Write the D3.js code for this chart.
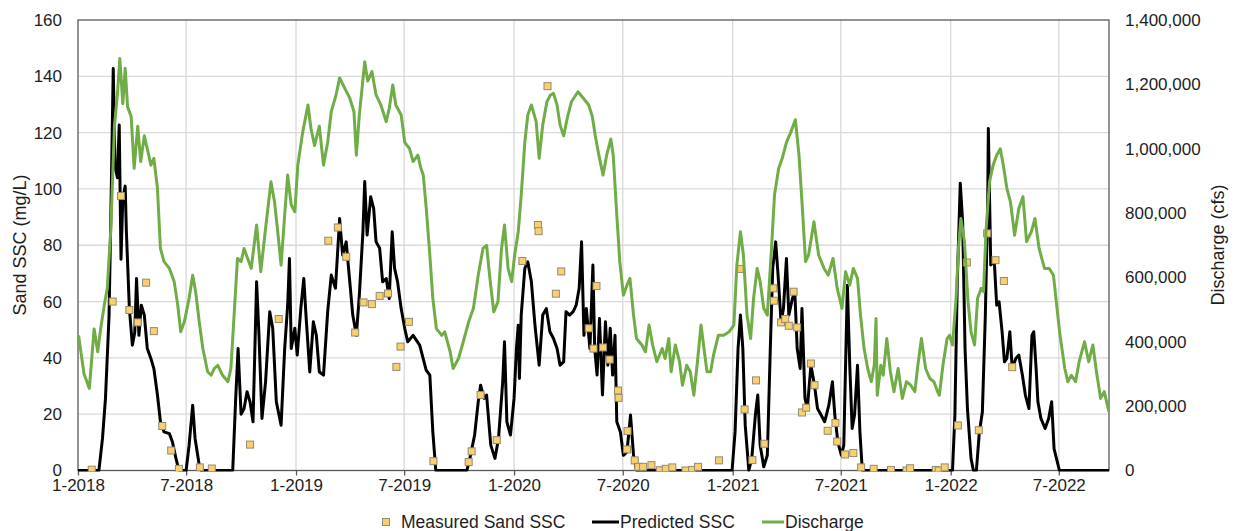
<!DOCTYPE html>
<html>
<head>
<meta charset="utf-8">
<script src="https://cdnjs.cloudflare.com/ajax/libs/d3/7.8.5/d3.min.js"></script>
<style>
  body { margin: 0; background: #fff; }
  svg text { font-family: Arial, "Liberation Sans", sans-serif; fill: #1e1e1e; }
</style>
</head>
<body>
<svg id="chart" width="1234" height="531"></svg>
<script>
// daily discharge (cfs)
var discharge = [
  ['2018-01-02', 420000], ['2018-01-11', 301000], ['2018-01-20', 255000], ['2018-01-28', 440000],
  ['2018-02-03', 369000], ['2018-02-08', 441000], ['2018-02-14', 514000], ['2018-02-19', 566000],
  ['2018-02-25', 752000], ['2018-03-03', 1070000], ['2018-03-08', 1170000], ['2018-03-12', 1280000],
  ['2018-03-17', 1140000], ['2018-03-21', 1250000], ['2018-03-25', 1130000], ['2018-03-31', 1100000],
  ['2018-04-05', 939000], ['2018-04-11', 1070000], ['2018-04-16', 960000], ['2018-04-22', 1040000],
  ['2018-04-27', 1000000], ['2018-05-03', 949000], ['2018-05-08', 970000], ['2018-05-14', 877000],
  ['2018-05-19', 690000], ['2018-05-25', 649000], ['2018-06-03', 628000], ['2018-06-11', 587000],
  ['2018-06-17', 514000], ['2018-06-22', 431000], ['2018-06-28', 462000], ['2018-07-06', 535000],
  ['2018-07-12', 607000], ['2018-07-17', 555000], ['2018-07-23', 462000], ['2018-07-29', 379000],
  ['2018-08-06', 307000], ['2018-08-12', 296000], ['2018-08-17', 317000], ['2018-08-23', 327000],
  ['2018-08-31', 296000], ['2018-09-09', 276000], ['2018-09-14', 317000], ['2018-09-20', 504000],
  ['2018-09-25', 659000], ['2018-10-01', 649000], ['2018-10-06', 690000], ['2018-10-12', 659000],
  ['2018-10-18', 628000], ['2018-10-27', 763000], ['2018-11-03', 618000], ['2018-11-11', 752000],
  ['2018-11-20', 897000], ['2018-11-26', 835000], ['2018-12-02', 731000], ['2018-12-07', 638000],
  ['2018-12-13', 794000], ['2018-12-18', 918000], ['2018-12-24', 825000], ['2018-12-30', 804000],
  ['2019-01-04', 949000], ['2019-01-12', 1050000], ['2019-01-21', 1136000], ['2019-01-26', 1063000],
  ['2019-02-01', 1010000], ['2019-02-09', 1070000], ['2019-02-16', 949000], ['2019-02-23', 1020000],
  ['2019-03-01', 1115000], ['2019-03-09', 1167000], ['2019-03-15', 1220000], ['2019-03-23', 1190000],
  ['2019-04-01', 1157000], ['2019-04-08', 1115000], ['2019-04-12', 980000], ['2019-04-17', 1105000],
  ['2019-04-26', 1270000], ['2019-05-01', 1210000], ['2019-05-08', 1240000], ['2019-05-15', 1167000],
  ['2019-05-23', 1136000], ['2019-06-01', 1084000], ['2019-06-06', 1125000], ['2019-06-12', 1198000],
  ['2019-06-17', 1136000], ['2019-06-26', 1105000], ['2019-07-02', 1020000], ['2019-07-10', 1000000],
  ['2019-07-16', 960000], ['2019-07-24', 980000], ['2019-07-29', 939000], ['2019-08-02', 918000],
  ['2019-08-07', 815000], ['2019-08-13', 670000], ['2019-08-18', 535000], ['2019-08-24', 441000],
  ['2019-09-02', 420000], ['2019-09-07', 431000], ['2019-09-16', 369000], ['2019-09-21', 317000],
  ['2019-09-30', 348000], ['2019-10-08', 400000], ['2019-10-17', 462000], ['2019-10-25', 504000],
  ['2019-11-02', 607000], ['2019-11-10', 690000], ['2019-11-16', 700000], ['2019-11-21', 607000],
  ['2019-11-28', 493000], ['2019-12-05', 524000], ['2019-12-11', 690000], ['2019-12-16', 763000],
  ['2019-12-22', 628000], ['2019-12-28', 587000], ['2020-01-02', 670000], ['2020-01-08', 742000],
  ['2020-01-13', 856000], ['2020-01-19', 1020000], ['2020-01-24', 1105000], ['2020-01-30', 1136000],
  ['2020-02-07', 1084000], ['2020-02-12', 970000], ['2020-02-18', 1074000], ['2020-02-25', 1146000],
  ['2020-03-02', 1167000], ['2020-03-07', 1172000], ['2020-03-13', 1136000], ['2020-03-18', 1074000],
  ['2020-03-24', 1040000], ['2020-03-30', 1094000], ['2020-04-06', 1146000], ['2020-04-17', 1177000],
  ['2020-04-26', 1157000], ['2020-05-05', 1136000], ['2020-05-11', 1100000], ['2020-05-16', 1040000],
  ['2020-05-22', 980000], ['2020-05-29', 918000], ['2020-06-04', 980000], ['2020-06-11', 1030000],
  ['2020-06-15', 980000], ['2020-06-21', 794000], ['2020-06-26', 649000], ['2020-07-02', 545000],
  ['2020-07-08', 576000], ['2020-07-13', 597000], ['2020-07-19', 483000], ['2020-07-24', 410000],
  ['2020-08-02', 390000], ['2020-08-08', 369000], ['2020-08-14', 452000], ['2020-08-20', 390000],
  ['2020-08-27', 338000], ['2020-09-05', 379000], ['2020-09-10', 348000], ['2020-09-16', 410000],
  ['2020-09-20', 307000], ['2020-09-27', 390000], ['2020-10-04', 338000], ['2020-10-09', 265000],
  ['2020-10-16', 327000], ['2020-10-22', 307000], ['2020-10-28', 234000], ['2020-11-03', 338000],
  ['2020-11-09', 452000], ['2020-11-14', 379000], ['2020-11-19', 307000], ['2020-11-25', 307000],
  ['2020-11-30', 359000], ['2020-12-08', 420000], ['2020-12-17', 420000], ['2020-12-26', 431000],
  ['2021-01-03', 452000], ['2021-01-08', 638000], ['2021-01-14', 742000], ['2021-01-19', 669000],
  ['2021-01-25', 483000], ['2021-01-31', 410000], ['2021-02-05', 535000], ['2021-02-11', 628000],
  ['2021-02-16', 587000], ['2021-02-22', 504000], ['2021-02-28', 483000], ['2021-03-07', 690000],
  ['2021-03-12', 856000], ['2021-03-19', 939000], ['2021-03-25', 970000], ['2021-04-01', 1020000],
  ['2021-04-08', 1050000], ['2021-04-16', 1090000], ['2021-04-22', 980000], ['2021-04-27', 835000],
  ['2021-05-03', 649000], ['2021-05-08', 669000], ['2021-05-17', 773000], ['2021-05-25', 669000],
  ['2021-06-03', 628000], ['2021-06-10', 607000], ['2021-06-18', 659000], ['2021-06-25', 566000],
  ['2021-07-03', 504000], ['2021-07-09', 618000], ['2021-07-16', 576000], ['2021-07-22', 628000],
  ['2021-07-29', 597000], ['2021-08-03', 483000], ['2021-08-09', 379000], ['2021-08-15', 317000],
  ['2021-08-21', 276000], ['2021-08-26', 327000], ['2021-08-29', 472000], ['2021-08-31', 234000],
  ['2021-09-06', 327000], ['2021-09-10', 296000], ['2021-09-16', 410000], ['2021-09-22', 307000],
  ['2021-09-28', 245000], ['2021-10-05', 317000], ['2021-10-12', 224000], ['2021-10-19', 276000],
  ['2021-10-26', 265000], ['2021-11-02', 245000], ['2021-11-07', 327000], ['2021-11-13', 410000],
  ['2021-11-20', 317000], ['2021-11-27', 286000], ['2021-12-04', 276000], ['2021-12-10', 245000],
  ['2021-12-13', 234000], ['2021-12-19', 327000], ['2021-12-26', 410000], ['2021-12-30', 420000],
  ['2022-01-04', 390000], ['2022-01-10', 535000], ['2022-01-14', 690000], ['2022-01-18', 783000],
  ['2022-01-24', 711000], ['2022-01-30', 524000], ['2022-02-04', 431000], ['2022-02-10', 390000],
  ['2022-02-15', 535000], ['2022-02-21', 566000], ['2022-02-25', 556000], ['2022-03-01', 742000],
  ['2022-03-07', 897000], ['2022-03-13', 949000], ['2022-03-19', 980000], ['2022-03-25', 1000000],
  ['2022-03-30', 949000], ['2022-04-05', 877000], ['2022-04-11', 835000], ['2022-04-18', 731000],
  ['2022-04-25', 814000], ['2022-05-02', 851000], ['2022-05-08', 711000], ['2022-05-16', 742000],
  ['2022-05-22', 783000], ['2022-05-29', 690000], ['2022-06-07', 628000], ['2022-06-15', 628000],
  ['2022-06-22', 607000], ['2022-06-28', 504000], ['2022-07-03', 420000], ['2022-07-11', 317000],
  ['2022-07-16', 276000], ['2022-07-22', 296000], ['2022-07-29', 276000], ['2022-08-04', 338000],
  ['2022-08-13', 400000], ['2022-08-20', 338000], ['2022-08-27', 390000], ['2022-09-02', 307000],
  ['2022-09-09', 224000], ['2022-09-15', 245000], ['2022-09-23', 182000]
];

// predicted sand SSC (mg/L), black trace
var predicted = [
  ['2018-01-01', 0], ['2018-02-05', 0], ['2018-02-11', 11.4], ['2018-02-16', 25.6],
  ['2018-02-22', 55], ['2018-02-25', 90.7], ['2018-03-01', 142.8], ['2018-03-04', 108],
  ['2018-03-08', 104], ['2018-03-11', 122.7], ['2018-03-14', 75], ['2018-03-17', 96.6],
  ['2018-03-21', 101], ['2018-03-23', 84.8], ['2018-03-28', 57.5], ['2018-04-02', 44.5],
  ['2018-04-06', 49], ['2018-04-09', 68.2], ['2018-04-13', 48], ['2018-04-17', 58.7],
  ['2018-04-22', 55.2], ['2018-04-27', 43.3], ['2018-05-03', 39.8], ['2018-05-08', 36.2],
  ['2018-05-14', 26.8], ['2018-05-19', 17.3], ['2018-05-25', 13.7], ['2018-06-03', 13.1],
  ['2018-06-08', 10.2], ['2018-06-14', 4.3], ['2018-06-19', 0], ['2018-07-01', 0],
  ['2018-07-06', 9], ['2018-07-12', 23.2], ['2018-07-16', 11.4], ['2018-07-23', 1.9],
  ['2018-07-26', 0], ['2018-09-17', 0], ['2018-09-22', 25.6], ['2018-09-26', 43.3],
  ['2018-10-01', 20], ['2018-10-06', 22], ['2018-10-11', 28], ['2018-10-16', 24.4],
  ['2018-10-21', 17.3], ['2018-10-27', 67], ['2018-10-31', 48], ['2018-11-05', 18.5],
  ['2018-11-11', 31.5], ['2018-11-18', 56.4], ['2018-11-23', 50.5], ['2018-11-29', 24.4],
  ['2018-12-07', 16.1], ['2018-12-13', 43.3], ['2018-12-18', 58.7], ['2018-12-21', 75.3],
  ['2018-12-24', 43.3], ['2018-12-30', 50.5], ['2019-01-03', 41], ['2019-01-09', 57.5],
  ['2019-01-14', 68.2], ['2019-01-18', 54], ['2019-01-24', 35], ['2019-01-30', 52.8],
  ['2019-02-04', 48], ['2019-02-09', 35], ['2019-02-16', 33.9], ['2019-02-23', 56.4],
  ['2019-03-01', 69.4], ['2019-03-08', 64.7], ['2019-03-15', 89.5], ['2019-03-20', 76.5],
  ['2019-03-26', 81.2], ['2019-04-01', 67], ['2019-04-06', 55.2], ['2019-04-12', 48],
  ['2019-04-17', 62.3], ['2019-04-23', 84.8], ['2019-04-26', 102.6], ['2019-04-30', 83.6],
  ['2019-05-06', 97.2], ['2019-05-11', 93], ['2019-05-15', 81.2], ['2019-05-21', 78.9],
  ['2019-05-26', 67], ['2019-06-01', 68.2], ['2019-06-06', 61.1], ['2019-06-11', 84.8],
  ['2019-06-15', 71.8], ['2019-06-20', 67], ['2019-06-26', 57.5], ['2019-07-02', 50.5],
  ['2019-07-07', 45.7], ['2019-07-16', 48], ['2019-07-27', 44.5], ['2019-08-07', 35.6],
  ['2019-08-13', 33.9], ['2019-08-18', 13.7], ['2019-08-23', 0], ['2019-10-14', 0],
  ['2019-10-19', 4.3], ['2019-10-27', 12.6], ['2019-11-02', 24.4], ['2019-11-06', 30.3],
  ['2019-11-12', 25.6], ['2019-11-16', 26.8], ['2019-11-23', 9], ['2019-11-30', 4.3],
  ['2019-12-06', 11.4], ['2019-12-13', 31.5], ['2019-12-16', 45.7], ['2019-12-20', 17.3],
  ['2019-12-26', 12.6], ['2020-01-01', 25.6], ['2020-01-05', 43.3], ['2020-01-08', 51.6],
  ['2020-01-10', 32.7], ['2020-01-13', 55.2], ['2020-01-19', 71.8], ['2020-01-24', 74.1],
  ['2020-01-30', 67], ['2020-02-05', 51.6], ['2020-02-12', 37.4], ['2020-02-18', 55.2],
  ['2020-02-24', 57.5], ['2020-03-01', 49.3], ['2020-03-07', 46.9], ['2020-03-13', 43.3],
  ['2020-03-18', 37.4], ['2020-03-24', 38.6], ['2020-03-28', 56.4], ['2020-04-03', 55.2],
  ['2020-04-09', 56.4], ['2020-04-14', 58.7], ['2020-04-19', 64.7], ['2020-04-23', 81.2],
  ['2020-04-27', 48], ['2020-05-01', 57.5], ['2020-05-07', 43.3], ['2020-05-12', 73],
  ['2020-05-15', 43.3], ['2020-05-19', 33.9], ['2020-05-23', 54], ['2020-05-28', 26.8],
  ['2020-06-02', 52.8], ['2020-06-06', 37.4], ['2020-06-10', 50.5], ['2020-06-14', 33.9],
  ['2020-06-18', 48], ['2020-06-21', 17.3], ['2020-06-27', 13.7], ['2020-07-02', 5.4],
  ['2020-07-08', 6.6], ['2020-07-14', 19.7], ['2020-07-19', 5.4], ['2020-07-24', 0],
  ['2020-12-31', 0], ['2021-01-05', 13.7], ['2021-01-10', 43.3], ['2021-01-14', 55.2],
  ['2021-01-18', 43.3], ['2021-01-22', 16.1], ['2021-01-28', 0], ['2021-02-02', 4.3],
  ['2021-02-08', 19.7], ['2021-02-12', 26.8], ['2021-02-16', 9], ['2021-02-22', 1.3],
  ['2021-02-28', 5.4], ['2021-03-05', 43.3], ['2021-03-09', 71.8], ['2021-03-14', 81.2],
  ['2021-03-18', 69.4], ['2021-03-23', 52.8], ['2021-03-27', 57.5], ['2021-04-01', 75.3],
  ['2021-04-05', 55.2], ['2021-04-11', 61.1], ['2021-04-15', 63.5], ['2021-04-19', 43.3],
  ['2021-04-24', 36.2], ['2021-04-27', 57.5], ['2021-05-02', 25.6], ['2021-05-06', 22],
  ['2021-05-12', 37.4], ['2021-05-18', 30.3], ['2021-05-23', 22], ['2021-05-29', 19.7],
  ['2021-06-04', 17.3], ['2021-06-11', 23.2], ['2021-06-17', 31.5], ['2021-06-21', 19.7],
  ['2021-06-26', 10.2], ['2021-07-02', 5.4], ['2021-07-06', 9], ['2021-07-12', 65.8],
  ['2021-07-16', 37.4], ['2021-07-20', 14.9], ['2021-07-24', 19.7], ['2021-07-29', 37.4],
  ['2021-08-02', 13.7], ['2021-08-06', 0], ['2022-01-04', 0], ['2022-01-08', 19.7],
  ['2022-01-12', 67], ['2022-01-17', 102], ['2022-01-21', 88.3], ['2022-01-25', 43.3],
  ['2022-01-29', 22], ['2022-02-04', 4.3], ['2022-02-08', 0], ['2022-02-13', 0],
  ['2022-02-18', 13.7], ['2022-02-23', 20.8], ['2022-02-28', 55.2], ['2022-03-04', 95.5],
  ['2022-03-05', 121.5], ['2022-03-09', 73], ['2022-03-15', 74.1], ['2022-03-19', 58.7],
  ['2022-03-23', 59.9], ['2022-03-28', 49.3], ['2022-04-01', 38.6], ['2022-04-05', 39.8],
  ['2022-04-10', 49.3], ['2022-04-14', 36.2], ['2022-04-20', 39.8], ['2022-04-25', 41],
  ['2022-05-01', 33.9], ['2022-05-06', 26.8], ['2022-05-12', 22], ['2022-05-17', 48],
  ['2022-05-20', 49.3], ['2022-05-24', 36.2], ['2022-05-27', 24.4], ['2022-06-01', 18.5],
  ['2022-06-08', 14.9], ['2022-06-14', 18.5], ['2022-06-19', 24.4], ['2022-06-23', 7.8],
  ['2022-06-27', 4.3], ['2022-07-02', 0], ['2022-09-23', 0]
];

// measured sand SSC samples (mg/L)
var measured = [
  ['2018-01-24', 0.3], ['2018-02-28', 60], ['2018-03-14', 97.5], ['2018-03-28', 57],
  ['2018-04-11', 52.6], ['2018-04-25', 66.7], ['2018-05-08', 49.5], ['2018-05-22', 15.8],
  ['2018-06-06', 7.1], ['2018-06-19', 0.6], ['2018-07-24', 1.1], ['2018-08-13', 0.7],
  ['2018-10-16', 9.2], ['2018-12-03', 53.8], ['2019-02-24', 81.6], ['2019-03-12', 86.3],
  ['2019-03-26', 75.9], ['2019-04-10', 49], ['2019-04-24', 59.7], ['2019-05-08', 59.1],
  ['2019-05-21', 62], ['2019-06-04', 62.9], ['2019-06-18', 36.8], ['2019-06-25', 44],
  ['2019-07-09', 52.8], ['2019-08-19', 3.3], ['2019-10-17', 3], ['2019-10-22', 6.8],
  ['2019-11-06', 26.8], ['2019-12-03', 10.8], ['2020-01-15', 74.4], ['2020-02-10', 87.2],
  ['2020-02-11', 85], ['2020-02-26', 136.5], ['2020-03-11', 62.8], ['2020-03-20', 70.7],
  ['2020-05-05', 50.5], ['2020-05-13', 43.3], ['2020-05-18', 65.5], ['2020-05-29', 43.7],
  ['2020-06-09', 39.4], ['2020-06-23', 28.4], ['2020-06-24', 25.8], ['2020-07-08', 7.5],
  ['2020-07-09', 14], ['2020-07-21', 3.6], ['2020-07-27', 1.3], ['2020-08-04', 1.3],
  ['2020-08-18', 1.9], ['2020-09-01', 0.1], ['2020-09-11', 0.6], ['2020-09-22', 1.1],
  ['2020-10-14', 0], ['2020-10-25', 0.2], ['2020-11-04', 1.3], ['2020-12-09', 3.6],
  ['2021-01-13', 71.6], ['2021-01-21', 21.7], ['2021-02-03', 3.7], ['2021-02-09', 32],
  ['2021-02-23', 9.5], ['2021-03-10', 64.7], ['2021-03-11', 60.3], ['2021-03-23', 52.6],
  ['2021-03-30', 53.8], ['2021-04-05', 51.4], ['2021-04-13', 63.5], ['2021-04-19', 50.8],
  ['2021-04-27', 20.6], ['2021-05-04', 22.3], ['2021-05-12', 38], ['2021-05-18', 30.3],
  ['2021-06-09', 14.1], ['2021-06-22', 16.9], ['2021-06-25', 10.3], ['2021-07-08', 5.7],
  ['2021-07-22', 6.2], ['2021-08-04', 1.1], ['2021-08-25', 0.6], ['2021-09-23', 0.2],
  ['2021-10-19', 0], ['2021-10-25', 0.8], ['2021-12-07', 0.2], ['2021-12-12', 0],
  ['2021-12-22', 1.1], ['2022-01-13', 16], ['2022-01-28', 73.9], ['2022-02-17', 14.3],
  ['2022-03-03', 84.2], ['2022-03-17', 74.7], ['2022-03-31', 67.3], ['2022-04-14', 36.7]
];

var sscTicks = [0, 20, 40, 60, 80, 100, 120, 140, 160];
var flowTicks = [0, 200000, 400000, 600000, 800000, 1000000, 1200000, 1400000];
var dateTicks = ['2018-01-01', '2018-07-01', '2019-01-01', '2019-07-01', '2020-01-01',
  '2020-07-01', '2021-01-01', '2021-07-01', '2022-01-01', '2022-07-01'];
var seriesNames = ['Measured Sand SSC', 'Predicted SSC', 'Discharge'];

(function() {
    var parse = d3.utcParse('%Y-%m-%d');
    var toPoints = function(rows) {
        return rows.map(function(r) { return {date: parse(r[0]), v: r[1]}; });
    };

    var plotLeft = 78, plotRight = 1109, plotTop = 20, plotBottom = 470.5;
    var green = '#70ad47';

    var svg = d3.select('#chart');

    var x = d3.scaleUtc()
        .domain([parse('2018-01-01'), parse('2022-09-23')])
        .range([plotLeft, plotRight]);
    var ySsc = d3.scaleLinear().domain([0, 160]).range([plotBottom, plotTop]);
    var yFlow = d3.scaleLinear().domain([0, 1400000]).range([plotBottom, plotTop]);
    var tickDates = dateTicks.map(parse);

    // gridlines
    var grid = svg.append('g').attr('stroke', '#d9d9d9').attr('stroke-width', 1.3);
    grid.selectAll('.h').data(sscTicks.slice(1, -1)).enter().append('line')
        .attr('x1', plotLeft).attr('x2', plotRight)
        .attr('y1', function(d) { return ySsc(d); })
        .attr('y2', function(d) { return ySsc(d); });
    grid.selectAll('.v').data(tickDates.slice(1)).enter().append('line')
        .attr('y1', plotTop).attr('y2', plotBottom)
        .attr('x1', function(d) { return x(d); })
        .attr('x2', function(d) { return x(d); });

    // axes
    var xAxis = svg.append('g')
        .attr('transform', 'translate(0,' + plotBottom + ')')
        .call(d3.axisBottom(x).tickValues(tickDates)
            .tickFormat(d3.utcFormat('%-m-%Y')).tickSizeOuter(0).tickSize(5).tickPadding(3));
    var leftAxis = svg.append('g')
        .attr('transform', 'translate(' + plotLeft + ',0)')
        .call(d3.axisLeft(ySsc).tickValues(sscTicks).tickSize(0).tickPadding(16));
    var rightAxis = svg.append('g')
        .attr('transform', 'translate(' + plotRight + ',0)')
        .call(d3.axisRight(yFlow).tickValues(flowTicks)
            .tickFormat(d3.format(',')).tickSize(0).tickPadding(16));

    [xAxis, leftAxis, rightAxis].forEach(function(g) {
        g.select('.domain').remove();
        g.selectAll('text').attr('font-size', 17).attr('fill', '#1e1e1e')
            .attr('font-family', 'Arial, "Liberation Sans", sans-serif');
    });
    xAxis.selectAll('line').attr('stroke', '#595959').attr('stroke-width', 1.3);

    // plot frame
    svg.append('rect')
        .attr('x', plotLeft).attr('y', plotTop)
        .attr('width', plotRight - plotLeft).attr('height', plotBottom - plotTop)
        .attr('fill', 'none').attr('stroke', '#595959').attr('stroke-width', 1.3);

    svg.append('clipPath').attr('id', 'plotclip').append('rect')
        .attr('x', plotLeft).attr('y', plotTop - 2)
        .attr('width', plotRight - plotLeft).attr('height', plotBottom - plotTop + 3);

    var plot = svg.append('g').attr('clip-path', 'url(#plotclip)');

    var sscLine = d3.line()
        .x(function(d) { return x(d.date); })
        .y(function(d) { return ySsc(d.v); });
    var flowLine = d3.line()
        .x(function(d) { return x(d.date); })
        .y(function(d) { return yFlow(d.v); });

    plot.append('path').datum(toPoints(predicted))
        .attr('d', sscLine).attr('fill', 'none')
        .attr('stroke', '#000').attr('stroke-width', 3).attr('stroke-linejoin', 'round');

    var sq = 7;
    plot.append('g').selectAll('rect').data(toPoints(measured)).enter().append('rect')
        .attr('x', function(d) { return x(d.date) - sq / 2; })
        .attr('y', function(d) { return ySsc(d.v) - sq / 2; })
        .attr('width', sq).attr('height', sq)
        .attr('fill', '#f9d16c').attr('stroke', '#948a74').attr('stroke-width', 1);

    plot.append('path').datum(toPoints(discharge))
        .attr('d', flowLine).attr('fill', 'none')
        .attr('stroke', green).attr('stroke-width', 3).attr('stroke-linejoin', 'round');

    // axis titles
    svg.append('text')
        .attr('transform', 'translate(20,245) rotate(-90)')
        .attr('text-anchor', 'middle').attr('dy', '0.35em')
        .attr('font-size', 18).text('Sand SSC (mg/L)');
    svg.append('text')
        .attr('transform', 'translate(1218,245) rotate(-90)')
        .attr('text-anchor', 'middle').attr('dy', '0.35em')
        .attr('font-size', 18).text('Discharge (cfs)');

    // legend
    var legend = svg.append('g').attr('font-size', 17.5);
    legend.append('rect').attr('x', 382.5).attr('y', 518.5).attr('width', sq).attr('height', sq)
        .attr('fill', '#f9d16c').attr('stroke', '#948a74');
    legend.append('text').attr('x', 401).attr('y', 522).attr('dy', '0.35em').text(seriesNames[0]);
    legend.append('line').attr('x1', 592).attr('x2', 619).attr('y1', 522).attr('y2', 522)
        .attr('stroke', '#000').attr('stroke-width', 3);
    legend.append('text').attr('x', 620).attr('y', 522).attr('dy', '0.35em').text(seriesNames[1]);
    legend.append('line').attr('x1', 762).attr('x2', 784).attr('y1', 522).attr('y2', 522)
        .attr('stroke', green).attr('stroke-width', 3);
    legend.append('text').attr('x', 785).attr('y', 522).attr('dy', '0.35em').text(seriesNames[2]);
})();
</script>
</body>
</html>
